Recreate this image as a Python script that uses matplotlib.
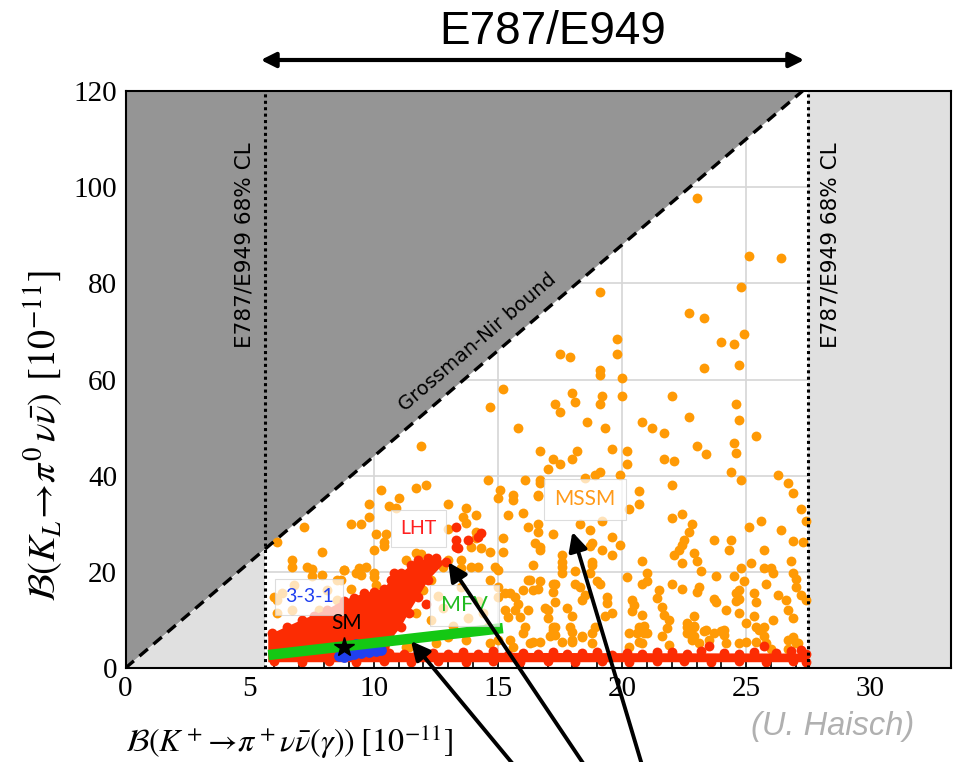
import matplotlib
matplotlib.use('Agg')
import matplotlib.pyplot as plt
from matplotlib.ticker import MultipleLocator

plt.rcParams['mathtext.fontset'] = 'stix'

# ---- data (units of 1e-11) ----
gn_ratio = 4.4            # Grossman-Nir bound  B(KL) < 4.4 B(K+)
e949_lo, e949_hi = 5.6, 27.5

sm_point = (8.8, 4.3)

mfv_x = [5.75, 15.2]
mfv_y = [2.7, 8.3]

blue_x = [8.6, 8.8, 9.0, 9.2, 9.5, 9.8, 10.1, 10.3, 9.3, 8.9]
blue_y = [2.4, 2.2, 2.8, 3.0, 3.2, 3.4, 3.6, 3.7, 4.9, 3.5]

# outline of the dense LHT cloud (wedge + band)
lht_cloud_x = [5.75, 5.75, 5.9, 7.1, 8.1, 8.8, 9.6, 10.4, 10.7, 11.1, 11.5, 11.8, 12.5,
               12.9, 12.2, 11.8, 11.4, 11.1, 10.7, 10.6, 27.45, 27.45]
lht_cloud_y = [1.2, 7.0, 7.2, 10.0, 12.1, 14.1, 15.5, 16.5, 18.3, 19.7, 21.4, 22.5, 22.8,
               22.1, 18.3, 14.8, 11.4, 8.6, 6.0, 3.2, 3.0, 1.2]

lht_x = [5.9, 6.5, 7.1, 7.6, 8.1, 8.8, 9.2, 9.6, 10.0, 10.4, 10.7, 11.1, 11.5, 11.8, 12.2, 12.5,
         12.9, 12.2, 11.8, 11.4, 11.1, 10.7, 11.0, 10.8, 12.1,
         13.3, 13.3, 13.8, 14.3, 14.2, 13.3, 13.4,
         10.6, 11.2, 11.8, 12.4, 13.0, 13.6, 14.2, 14.8, 15.4, 16.0, 16.6, 17.2, 17.8, 18.4,
         19.0, 19.6, 20.2, 20.8, 21.4, 22.0, 22.6, 23.2, 23.5, 24.1, 24.7, 25.3, 25.7, 26.2,
         26.8, 27.2, 27.4,
         6.0, 7.1, 8.2, 9.3, 10.4, 11.5, 12.6, 13.7, 14.8, 15.9, 17.0, 18.1, 19.2, 20.3,
         21.4, 22.5, 23.6, 24.7, 25.8, 26.9, 27.4]
lht_y = [7.3, 8.6, 10.0, 10.8, 12.1, 14.0, 14.6, 15.5, 15.9, 16.5, 18.3, 19.7, 21.4, 22.5, 22.9, 22.8,
         22.1, 18.3, 14.8, 11.4, 8.6, 6.0, 18.7, 19.7, 13.4,
         29.4, 26.6, 26.6, 28.0, 27.3, 25.2, 24.9,
         3.2, 3.0, 3.4, 3.1, 2.9, 3.3, 3.0, 3.5, 2.8, 3.2, 3.0, 3.4, 2.9, 3.1,
         3.3, 2.8, 3.2, 3.0, 3.3, 3.4, 2.9, 3.6, 4.6, 3.2, 2.9, 3.3, 4.5, 3.1,
         3.5, 3.8, 3.0,
         1.4, 1.2, 1.5, 1.3, 1.4, 1.2, 1.5, 1.3, 1.4, 1.2, 1.5, 1.3, 1.4, 1.2,
         1.5, 1.4, 1.2, 1.5, 1.3, 1.4, 1.2]

mssm_xy = [
    (23.0, 97.7), (25.1, 85.7), (26.4, 85.2), (24.8, 79.2), (19.1, 78.2), (22.7, 73.8),
    (23.3, 72.8), (19.8, 68.4), (24.9, 69.4), (24.0, 67.8), (24.5, 67.4), (17.5, 65.3),
    (17.9, 64.7), (19.8, 65.3), (23.3, 62.4), (24.7, 63.0), (19.1, 62.0), (19.1, 60.9),
    (20.0, 60.3), (18.0, 57.2), (19.2, 56.5), (20.0, 56.5), (22.0, 56.5), (18.1, 55.4),
    (17.3, 54.9), (17.5, 53.2), (19.1, 54.9), (24.6, 54.9), (24.7, 51.6), (22.7, 52.2),
    (18.6, 51.1), (20.8, 51.1), (21.2, 50.0), (21.7, 48.9), (19.3, 50.0), (25.4, 48.3),
    (24.5, 46.8), (24.6, 44.7), (23.0, 46.2), (23.4, 44.6), (16.7, 45.1), (18.2, 45.1),
    (19.6, 45.6), (20.2, 45.1), (20.2, 42.4), (17.2, 43.5), (18.0, 43.5), (17.5, 42.4),
    (21.7, 43.5), (22.1, 43.0), (17.0, 41.3), (18.5, 39.6), (18.9, 40.2), (19.1, 40.7),
    (19.9, 40.2), (24.4, 40.7), (24.8, 39.1), (26.3, 40.2), (26.7, 38.5), (26.9, 36.3),
    (16.7, 38.5), (16.6, 35.8), (20.7, 36.9), (20.7, 34.2), (22.0, 38.0), (20.3, 33.1),
    (22.0, 31.1), (22.4, 32.0), (22.8, 29.9), (22.7, 28.3), (22.5, 26.7), (22.4, 25.6),
    (22.3, 24.5), (22.1, 23.5), (22.9, 24.0), (23.0, 22.3), (22.4, 21.8), (23.2, 20.2),
    (25.1, 29.4), (25.6, 30.5), (26.4, 28.8), (27.2, 33.1), (27.4, 30.5), (27.3, 26.2),
    (26.9, 26.5), (23.7, 26.6), (24.4, 26.6), (24.3, 24.5), (25.7, 24.5), (25.2, 21.8),
    (26.8, 22.3), (26.9, 19.7), (27.0, 18.6), (27.0, 16.9), (27.2, 15.2), (27.4, 14.1),
    (26.0, 20.8), (25.7, 20.8), (26.1, 19.7), (25.8, 17.5), (24.8, 20.8), (24.5, 19.1),
    (24.9, 18.0), (24.7, 16.2), (24.7, 14.4), (23.8, 19.1), (24.2, 12.1), (23.7, 14.4),
    (23.8, 13.8), (23.1, 16.9), (23.0, 15.8), (22.9, 10.9), (22.9, 8.8), (22.9, 6.7),
    (20.8, 22.3), (21.0, 19.7), (21.0, 18.0), (20.8, 17.5), (20.2, 19.0), (20.4, 14.1),
    (20.5, 13.0), (20.4, 11.9), (20.8, 11.0), (20.9, 8.7), (21.0, 7.2), (20.6, 7.2),
    (20.8, 5.3), (21.5, 16.2), (21.4, 14.6), (21.6, 12.7), (21.7, 11.0), (21.9, 10.0),
    (21.8, 8.3), (21.6, 6.7), (22.0, 17.5), (22.4, 16.4), (22.6, 8.6), (22.7, 7.6),
    (22.8, 6.4), (23.1, 5.1), (23.4, 7.9), (23.7, 7.2), (24.1, 7.8), (24.2, 5.1),
    (24.6, 15.5), (24.6, 14.0), (24.7, 11.4), (25.0, 9.3), (25.3, 15.5), (25.4, 13.7),
    (25.3, 10.8), (25.7, 8.6), (25.7, 6.7), (25.4, 5.5), (26.3, 15.2), (26.6, 14.1),
    (26.7, 12.1), (26.9, 10.4), (26.9, 6.1), (27.1, 5.1), (26.7, 4.0), (26.1, 10.0),
    (26.0, 4.0), (16.6, 30.0), (17.2, 27.8), (16.7, 25.2), (16.7, 24.5), (16.4, 21.4),
    (18.3, 29.9), (18.7, 28.8), (18.8, 25.9), (18.7, 25.4), (19.2, 30.5), (19.2, 24.5),
    (19.6, 27.3), (19.6, 23.5), (19.9, 25.6), (17.6, 23.5), (17.6, 22.1), (17.6, 21.1),
    (17.6, 19.7), (18.1, 20.1), (18.8, 22.1), (18.8, 21.4), (18.7, 19.7), (16.7, 18.0),
    (16.6, 16.4), (17.2, 17.5), (17.3, 17.5), (17.2, 15.8), (17.3, 13.7), (17.0, 12.1),
    (17.0, 10.4), (16.9, 12.5), (17.3, 8.6), (17.2, 8.0), (17.1, 6.7), (16.7, 5.5),
    (18.1, 17.5), (18.3, 16.9), (18.5, 15.2), (18.4, 14.1), (17.8, 12.5), (18.0, 10.9),
    (17.9, 8.6), (18.0, 7.5), (18.0, 5.8), (18.4, 6.7), (18.8, 7.2), (18.9, 8.6),
    (19.0, 18.0), (19.1, 17.5), (19.4, 14.8), (19.4, 13.6), (19.3, 10.9), (19.6, 11.4),
    (18.8, 5.1), (15.2, 58.1), (14.7, 54.3), (15.8, 50.0), (11.9, 46.2), (11.7, 37.5),
    (12.1, 38.0), (10.3, 37.0), (14.6, 39.1), (15.1, 37.0), (15.0, 35.3), (16.1, 39.1),
    (15.6, 36.0), (15.6, 34.9), (16.6, 36.0), (16.7, 39.1), (11.0, 35.3), (10.6, 33.7),
    (10.9, 33.2), (9.8, 34.2), (9.8, 31.5), (9.1, 29.9), (9.5, 29.9), (10.1, 27.9),
    (10.5, 27.9), (10.4, 26.3), (10.0, 24.5), (10.4, 25.4), (13.0, 34.2), (13.7, 33.2),
    (14.1, 31.8), (13.6, 31.5), (13.7, 30.1), (13.0, 29.0), (14.1, 28.3), (14.1, 27.0),
    (13.9, 25.2), (14.3, 24.9), (14.7, 24.2), (15.2, 27.0), (15.2, 24.2), (15.4, 31.8),
    (16.0, 32.2), (16.2, 29.4), (16.6, 28.3), (16.5, 25.9), (7.2, 29.4), (7.9, 24.2),
    (6.7, 22.5), (6.1, 26.3), (7.5, 20.5), (7.5, 19.1), (8.8, 20.4), (8.7, 18.3),
    (9.4, 20.7), (9.5, 19.3), (10.0, 19.7), (9.1, 16.4), (10.1, 17.3), (6.0, 14.8),
    (6.7, 12.1), (11.2, 19.0), (11.1, 17.6), (13.5, 22.5), (13.0, 22.5), (13.5, 20.7),
    (14.2, 21.1), (14.9, 21.1), (14.7, 18.3), (15.0, 16.9), (15.3, 15.5), (15.7, 14.8),
    (16.2, 18.3), (16.4, 16.2), (16.2, 12.1), (15.7, 12.1), (16.1, 8.6), (15.3, 12.1),
    (11.7, 24.0), (11.9, 23.8), (11.3, 22.5), (12.5, 5.1), (11.4, 4.4), (13.0, 6.5),
    (13.7, 5.8), (14.7, 5.1), (15.6, 4.4), (16.4, 5.5), (17.2, 8.6), (17.3, 6.9),
    (17.6, 5.5), (18.0, 5.5), (18.4, 6.5), (20.3, 7.2), (20.7, 8.6), (20.9, 7.2),
    (20.7, 5.5), (20.3, 4.4), (21.9, 4.8), (22.6, 9.3), (22.9, 8.6), (22.6, 7.2),
    (22.8, 5.8), (23.3, 7.6), (23.5, 5.8), (24.0, 7.6), (24.1, 6.9), (24.7, 5.1),
    (25.0, 5.5), (25.4, 8.6), (25.5, 7.9), (25.8, 5.1), (26.7, 5.8), (26.9, 6.5),
    (27.0, 5.1), (6.7, 21.1), (7.3, 21.1), (7.9, 19.3), (6.8, 17.3), (6.3, 15.5),
    (6.1, 14.1), (6.1, 11.4), (7.8, 12.1), (8.1, 16.2), (8.5, 14.1), (8.5, 18.3),
    (8.8, 20.4), (9.3, 19.7), (9.7, 21.1), (10.0, 19.0), (11.9, 19.7), (12.3, 18.3),
    (12.8, 21.1), (13.3, 19.7), (13.9, 21.1), (15.0, 20.4), (15.5, 15.5), (15.8, 13.4),
    (16.0, 16.2), (16.3, 18.3), (15.9, 10.7), (15.4, 10.7), (15.0, 14.8), (14.6, 8.6),
    (15.0, 5.8), (15.5, 5.8), (16.0, 7.2), (16.3, 5.1), (11.6, 15.5), (12.0, 16.2),
    (11.2, 12.7), (11.7, 11.4), (12.3, 10.0), (11.3, 4.4), (12.8, 12.5), (13.2, 8.8),
    (13.8, 10.5), (14.2, 14.0), (12.6, 15.0), (13.5, 16.8), (14.4, 11.5),
]
mssm_x = [p[0] for p in mssm_xy]
mssm_y = [p[1] for p in mssm_xy]

# ---- figure ----
W, H = 959, 762
fig = plt.figure(figsize=(W / 100, H / 100), dpi=100)
ax = fig.add_axes([125.5 / W, 1 - 668 / H, (951 - 125.5) / W, (668 - 91) / H])
xmax, ymax = 33.25, 120
ax.set_xlim(0, xmax)
ax.set_ylim(0, ymax)

ax.set_axisbelow(True)
ax.grid(True, color='#d6d6d6', lw=1.2)

x_top = ymax / gn_ratio
ax.fill([0, x_top, 0], [0, ymax, ymax], color='#959595', lw=0, zorder=1)
ax.fill([0, e949_lo, e949_lo], [0, 0, e949_lo * gn_ratio], color='#e0e0e0', lw=0, zorder=1)
ax.fill([e949_hi, xmax, xmax, e949_hi], [0, 0, ymax, ymax], color='#e0e0e0', lw=0, zorder=1)

ax.plot([0, x_top], [0, ymax], color='k', lw=2.4, ls=(0, (3.3, 2.2)), zorder=6)
for xv in (e949_lo, e949_hi):
    ax.plot([xv, xv], [0, ymax], color='k', lw=2.2, ls=(0, (1, 1.1)), zorder=6)

msize = 50
ax.scatter(mssm_x, mssm_y, s=msize, color='#ff9a05', lw=0, zorder=2)
ax.fill(lht_cloud_x, lht_cloud_y, color='#fc2c03', lw=0, zorder=3)
ax.scatter(lht_x, lht_y, s=msize, color='#fc2c03', lw=0, zorder=3)
ax.scatter(blue_x, blue_y, s=60, color='#2040f0', lw=0, zorder=4)
ax.plot(mfv_x, mfv_y, color='#14c814', lw=7.5, solid_capstyle='butt', zorder=5)
ax.plot(*sm_point, marker='*', color='k', ms=15, zorder=7)

lab_font = 'Lato'
box = dict(boxstyle='square,pad=0.5', fc='white', ec='#d0d0d0', lw=0.8, alpha=0.72)
ax.text(7.4, 14.8, '3-3-1', color='#2040f0', fontsize=14, family=lab_font, ha='center', va='center', bbox=box, zorder=8)
ax.text(13.65, 13.0, 'MFV', color='#22bb22', fontsize=15.5, family=lab_font, ha='center', va='center', bbox=box, zorder=8)
ax.text(11.8, 29.0, 'LHT', color='#ff2020', fontsize=14, family=lab_font, ha='center', va='center', bbox=box, zorder=8)
ax.text(18.5, 35.1, 'MSSM', color='#ff9a1a', fontsize=15, family=lab_font, ha='center', va='center', bbox=box, zorder=8)
ax.text(8.9, 9.4, 'SM', color='k', fontsize=15, family=lab_font, ha='center', va='center', zorder=8)

ax.text(4.8, 88, 'E787/E949 68% CL', rotation=90, fontsize=15.5, ha='center', va='center', zorder=8)
ax.text(28.4, 88, 'E787/E949 68% CL', rotation=90, fontsize=15.5, ha='center', va='center', zorder=8)
ax.text(14.2, 67.8, 'Grossman-Nir bound', rotation=40.7, rotation_mode='anchor',
        fontsize=14, ha='center', va='center', zorder=8)

# axes styling
ax.xaxis.set_major_locator(MultipleLocator(5))
ax.xaxis.set_minor_locator(MultipleLocator(1))
ax.yaxis.set_major_locator(MultipleLocator(20))
ax.yaxis.set_minor_locator(MultipleLocator(5))
ax.tick_params(which='both', direction='in', top=True, right=True, width=1.2, zorder=9)
ax.tick_params(which='major', length=8, labelsize=21, pad=6)
ax.tick_params(which='minor', length=4.5)
for lbl in ax.get_xticklabels() + ax.get_yticklabels():
    lbl.set_family('Liberation Serif')
for sp in ax.spines.values():
    sp.set_linewidth(1.5)
    sp.set_zorder(10)

fig.text(125 / W, 1 - 742 / H, r'$\mathcal{B}(K^+\!\rightarrow\!\pi^+\nu\bar{\nu}(\gamma))\;[10^{-11}]$',
         fontsize=23, ha='left', va='center')
fig.text(44 / W, 1 - 436 / H, r'$\mathcal{B}(K_L\!\rightarrow\!\pi^0\,\nu\bar{\nu})\;\,[10^{-11}]$',
         fontsize=27.5, rotation=90, ha='center', va='center')

fig.text(553 / W, 1 - 32 / H, 'E787/E949', fontsize=33, family='Liberation Sans', ha='center', va='center')
fig.add_artist(matplotlib.patches.FancyArrowPatch((258 / W, 1 - 60 / H), (807 / W, 1 - 60 / H),
               transform=fig.transFigure, arrowstyle='<|-|>', mutation_scale=22, lw=3.0, color='k'))
fig.text(833 / W, 1 - 727 / H, '(U. Haisch)', fontsize=23.5, style='italic', color='#b0b0b0',
         family='Liberation Sans', ha='center', va='center')

# arrows pointing at the models from below the frame
arrow_tips = [(11.5, 5.6), (13.0, 22.0), (18.0, 28.3)]
arrow_tails = [(522, 775), (591, 775), (645, 775)]
for tip, tail in zip(arrow_tips, arrow_tails):
    ax.annotate('', xy=tip, xycoords='data', xytext=(tail[0] / W, 1 - tail[1] / H),
                textcoords='figure fraction', annotation_clip=False,
                arrowprops=dict(arrowstyle='-|>', lw=2.8, color='k', mutation_scale=28,
                                shrinkA=0, shrinkB=0), zorder=11)

fig.savefig('out.png', dpi=100)
